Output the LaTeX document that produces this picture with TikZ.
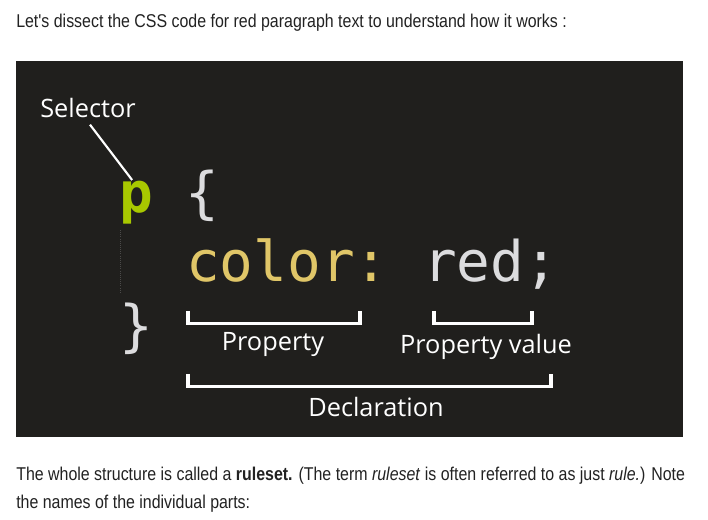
\documentclass[tikz,border=0pt]{standalone}
\usepackage{fontspec}
\usepackage{xcolor}
\usetikzlibrary{positioning}

\newfontfamily\bodyfont[FakeStretch=0.86]{Liberation Sans}
\newfontfamily\labelfont{Open Sans}
\newfontfamily\codefont{DejaVu Sans Mono}

\definecolor{panel}{RGB}{32,31,29}
\definecolor{cssgreen}{RGB}{168,200,0}
\definecolor{cssyellow}{RGB}{224,198,104}
\definecolor{csslight}{RGB}{220,220,222}
\definecolor{bodytext}{RGB}{34,34,34}

\begin{document}
\begin{tikzpicture}[
    x=0.75pt, y=-0.75pt,
    para/.style={anchor=base west, inner sep=0pt, text=bodytext,
                 font=\bodyfont\fontsize{13.9pt}{21pt}\selectfont},
    code/.style={anchor=base west, inner sep=0pt, font=\codefont\fontsize{42pt}{50pt}\selectfont},
    part/.style={inner sep=0pt, text=white, font=\labelfont\fontsize{19pt}{23pt}\selectfont},
    bracket/.style={draw=white, line width=2.4pt},
    pointer/.style={draw=white, line width=1.6pt},
    guide/.style={draw=gray!45!panel, densely dotted, line width=0.6pt}
]
\useasboundingbox[fill=white] (0,0) rectangle (708,520);

% Intro text
\node[para] (intro) at (16,27.5) {Let's dissect the CSS code for red paragraph text to understand how it works :};

% Code panel
\fill[panel] (16,61) rectangle (683,437);

% Code lines
\node[code, text=cssgreen] (sel) at (119,213) {\bfseries p};
\node[code, text=csslight] (lbrace) at (185.4,213) {\{};
\node[code, text=cssyellow] (prop) at (186,282) {color:};
\node[code, text=csslight] (val) at (423,282) {red;};
\node[code, text=csslight] (rbrace) at (119,346) {\}};
\draw[guide] (120,230) -- (120,293);

% Selector label
\node[part] (selname) at (88,108) {Selector};
\draw[pointer] ([xshift=1.5pt,yshift=-5pt]selname.south) -- ([xshift=-3pt,yshift=1pt]sel.north);

% Brackets
\coordinate (propL) at (188,311);
\coordinate (propR) at (360,311);
\coordinate (valL) at (434,311);
\coordinate (valR) at (532,311);
\coordinate (declL) at (188,374);
\coordinate (declR) at (551,374);
\draw[bracket] (propL) -- ++(0,12.5) -| (propR);
\draw[bracket] (valL) -- ++(0,12.5) -| (valR);
\draw[bracket] (declL) -- ++(0,12.5) -| (declR);

% Part names
\node[part] (propname) at (273,345) {Property};
\node[part] (valname) at (486,347) {Property value};
\node[part] (declname) at (376,407) {Declaration};

% Closing text
\node[para] (outro) at (16,481) {The whole structure is called a \textbf{ruleset.} (The term \textit{ruleset} is often referred to as just \textit{rule.}) Note};
\node[para] (outro2) at (16,509) {the names of the individual parts:};

\end{tikzpicture}
\end{document}
